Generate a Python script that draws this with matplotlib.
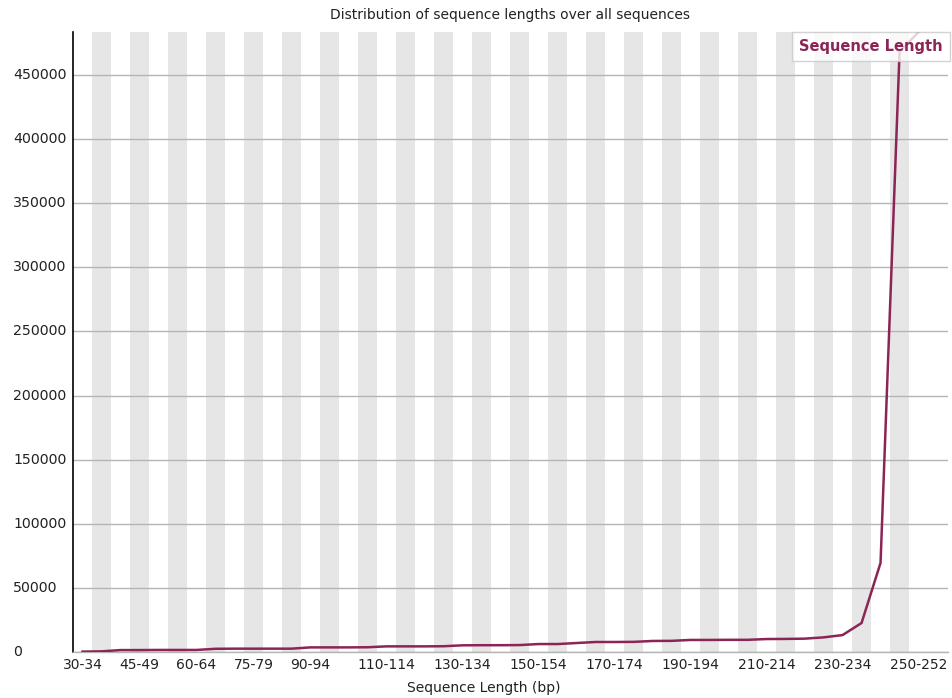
import matplotlib
matplotlib.use("Agg")
import matplotlib.pyplot as plt
from matplotlib.ticker import MultipleLocator

plt.rcParams['font.family'] = ['DejaVu Sans']

# Length bins (bp) and read counts per bin
categories = [
    "30-34", "35-39", "40-44", "45-49", "50-54", "55-59", "60-64", "65-69",
    "70-74", "75-79", "80-84", "85-89", "90-94", "95-99", "100-104", "105-109",
    "110-114", "115-119", "120-124", "125-129", "130-134", "135-139", "140-144",
    "145-149", "150-154", "155-159", "160-164", "165-169", "170-174", "175-179",
    "180-184", "185-189", "190-194", "195-199", "200-204", "205-209", "210-214",
    "215-219", "220-224", "225-229", "230-234", "235-239", "240-244", "245-249",
    "250-252",
]
counts = [
    300, 500, 1500, 1500, 1600, 1600, 1600, 2500,
    2600, 2600, 2600, 2600, 3600, 3600, 3600, 3700,
    4400, 4400, 4400, 4500, 5200, 5300, 5300,
    5400, 6200, 6200, 7000, 7800, 7800, 7900,
    8600, 8700, 9400, 9400, 9500, 9500, 10100,
    10200, 10400, 11400, 13200, 22600, 69500, 468000,
    483500,
]
# Bin labels that fit along the x axis
shown_labels = ["30-34", "45-49", "60-64", "75-79", "90-94", "110-114",
                "130-134", "150-154", "170-174", "190-194", "210-214",
                "230-234", "250-252"]

line_color = "#8c2556"
W, H = 953, 698
fig = plt.figure(figsize=(W / 100, H / 100), dpi=100)
ax = fig.add_axes([73 / W, 1 - 652 / H, (948 - 73) / W, (652 - 32) / H])

x = list(range(len(categories)))

# Alternating grey bands behind every other bin
for i in x:
    if i % 2 == 1:
        ax.axvspan(i - 0.5, i + 0.5, color="#e6e6e6", lw=0, zorder=0)

ax.plot(x, counts, color=line_color, lw=1.8, zorder=3, solid_joinstyle="miter")

ax.set_xlim(-0.5, 45.55)
ax.set_ylim(0, max(counts))
ax.yaxis.set_major_locator(MultipleLocator(50000))
ax.grid(axis="y", color="#b4b4b4", lw=1.0, zorder=1)
ax.set_axisbelow(True)

ax.set_xticks([categories.index(c) for c in shown_labels])
ax.set_xticklabels(shown_labels, fontsize=10, color="#222222")
ax.tick_params(axis="both", length=0, pad=4)

# y labels left aligned at the figure edge
ax.set_yticklabels([])
for v in range(0, int(max(counts)) + 1, 50000):
    y_fig = ax.transData.transform((0, v))[1]
    fig.text(13 / W, y_fig / fig.dpi / fig.get_figheight(), f"{v}",
             ha="left", va="center", fontsize=10.2, color="#222222")

for s in ("top", "right"):
    ax.spines[s].set_visible(False)
ax.spines["left"].set_color("black")
ax.spines["left"].set_linewidth(1.2)
ax.spines["bottom"].set_color("#b4b4b4")
ax.spines["bottom"].set_linewidth(1.0)

fig.text(510 / W, 1 - 15 / H, "Distribution of sequence lengths over all sequences",
         ha="center", va="center", fontsize=10, color="#222222")
fig.text(484 / W, 1 - 688 / H, "Sequence Length (bp)",
         ha="center", va="center", fontsize=10, color="#222222")

leg = ax.legend([plt.Line2D([], [], lw=0)], ["Sequence Length"],
                loc="upper right", bbox_to_anchor=(1.002, 1.0), frameon=True,
                fancybox=False, handlelength=0, handletextpad=0,
                borderpad=0.5, borderaxespad=0)
leg.get_frame().set_edgecolor("#c8c8c8")
leg.get_frame().set_linewidth(1.0)
for t in leg.get_texts():
    t.set_color(line_color)
    t.set_fontweight("bold")
    t.set_fontsize(10.5)
leg.set_zorder(5)

fig.savefig("out.png", dpi=100)
